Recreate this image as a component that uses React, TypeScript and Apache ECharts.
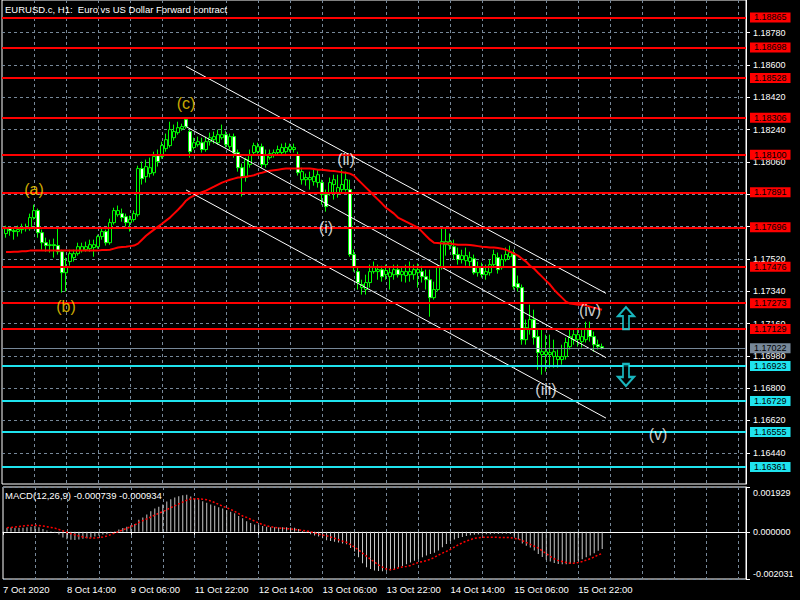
import React, { useEffect, useRef } from "react";
import * as echarts from "echarts";

// ---------- DATA ----------
const symbolTitle = "EURUSD.c, H1:  Euro vs US Dollar Forward contract";
const macdTitle = "MACD(12,26,9) -0.000739 -0.000934";

const opens = [
  1.17661, 1.17688, 1.17677, 1.17672, 1.17683, 1.17694, 1.17688, 1.17750, 1.17789, 1.17666,
  1.17610, 1.17594, 1.17599, 1.17594, 1.17560, 1.17443, 1.17505, 1.17527, 1.17549, 1.17566,
  1.17571, 1.17577, 1.17583, 1.17588, 1.17644, 1.17672, 1.17610, 1.17722, 1.17766, 1.17772,
  1.17755, 1.17722, 1.17739, 1.17766, 1.18023, 1.17978, 1.17995, 1.18000, 1.18095, 1.18090,
  1.18134, 1.18151, 1.18195, 1.18223, 1.18245, 1.18296, 1.18229, 1.18140, 1.18156, 1.18167,
  1.18129, 1.18173, 1.18184, 1.18167, 1.18195, 1.18212, 1.18145, 1.18201, 1.18112, 1.18028,
  1.17973, 1.18045, 1.18112, 1.18117, 1.18145, 1.18045, 1.18084, 1.18101, 1.18112, 1.18112,
  1.18117, 1.18129, 1.18129, 1.18101, 1.17961, 1.17961, 1.17961, 1.17950, 1.17945, 1.17945,
  1.17878, 1.17889, 1.17934, 1.17889, 1.17906, 1.17906, 1.17906, 1.17544, 1.17449, 1.17360,
  1.17349, 1.17388, 1.17449, 1.17449, 1.17460, 1.17432, 1.17421, 1.17432, 1.17460, 1.17432,
  1.17427, 1.17432, 1.17432, 1.17443, 1.17449, 1.17421, 1.17404, 1.17304, 1.17349, 1.17477,
  1.17599, 1.17594, 1.17588, 1.17544, 1.17516, 1.17510, 1.17505, 1.17521, 1.17443, 1.17477,
  1.17432, 1.17443, 1.17488, 1.17527, 1.17471, 1.17516, 1.17532, 1.17544, 1.17382, 1.17360,
  1.17070, 1.17126, 1.17182, 1.17087, 1.16987, 1.16987, 1.16987, 1.16976, 1.16959, 1.16959,
  1.16976, 1.17031, 1.17070, 1.17070, 1.17059, 1.17070, 1.17126, 1.17087, 1.17042, 1.17031,
];
const closes = [
  1.17688, 1.17677, 1.17672, 1.17683, 1.17694, 1.17688, 1.17750, 1.17789, 1.17666, 1.17610,
  1.17594, 1.17599, 1.17594, 1.17560, 1.17443, 1.17477, 1.17549, 1.17549, 1.17588, 1.17588,
  1.17588, 1.17599, 1.17599, 1.17644, 1.17672, 1.17610, 1.17722, 1.17789, 1.17789, 1.17750,
  1.17722, 1.17739, 1.17772, 1.18023, 1.17967, 1.18034, 1.18028, 1.18090, 1.18062, 1.18151,
  1.18184, 1.18240, 1.18229, 1.18251, 1.18257, 1.18257, 1.18117, 1.18167, 1.18173, 1.18129,
  1.18173, 1.18195, 1.18201, 1.18212, 1.18212, 1.18156, 1.18201, 1.18112, 1.18028, 1.17978,
  1.18073, 1.18101, 1.18151, 1.18145, 1.18045, 1.18101, 1.18106, 1.18112, 1.18129, 1.18140,
  1.18140, 1.18145, 1.18140, 1.18000, 1.18006, 1.17973, 1.17973, 1.17978, 1.17989, 1.17878,
  1.17811, 1.17945, 1.17961, 1.17917, 1.17934, 1.17961, 1.17544, 1.17477, 1.17388, 1.17377,
  1.17388, 1.17449, 1.17477, 1.17460, 1.17421, 1.17455, 1.17443, 1.17460, 1.17432, 1.17449,
  1.17449, 1.17449, 1.17460, 1.17460, 1.17421, 1.17404, 1.17304, 1.17349, 1.17477, 1.17616,
  1.17616, 1.17616, 1.17544, 1.17516, 1.17538, 1.17538, 1.17527, 1.17443, 1.17477, 1.17432,
  1.17449, 1.17488, 1.17544, 1.17460, 1.17516, 1.17544, 1.17555, 1.17365, 1.17360, 1.17070,
  1.17137, 1.17182, 1.17081, 1.16998, 1.17003, 1.17003, 1.16998, 1.17003, 1.16976, 1.16976,
  1.17054, 1.17087, 1.17098, 1.17098, 1.17087, 1.17126, 1.17087, 1.17042, 1.17031, 1.17022,
];
const highs = [
  1.17705, 1.17700, 1.17694, 1.17705, 1.17716, 1.17716, 1.17772, 1.17822, 1.17800, 1.17683,
  1.17638, 1.17627, 1.17633, 1.17694, 1.17571, 1.17527, 1.17571, 1.17571, 1.17610, 1.17610,
  1.17616, 1.17627, 1.17627, 1.17655, 1.17694, 1.17683, 1.17744, 1.17805, 1.17817, 1.17800,
  1.17772, 1.17761, 1.17789, 1.18039, 1.18062, 1.18073, 1.18084, 1.18117, 1.18129, 1.18173,
  1.18218, 1.18284, 1.18268, 1.18284, 1.18273, 1.18307, 1.18240, 1.18195, 1.18201, 1.18195,
  1.18201, 1.18223, 1.18229, 1.18240, 1.18268, 1.18234, 1.18218, 1.18218, 1.18129, 1.18051,
  1.18084, 1.18129, 1.18167, 1.18167, 1.18162, 1.18129, 1.18129, 1.18129, 1.18151, 1.18162,
  1.18167, 1.18162, 1.18162, 1.18117, 1.18028, 1.17995, 1.18006, 1.18017, 1.18017, 1.17961,
  1.17906, 1.17973, 1.17989, 1.17989, 1.18017, 1.18006, 1.17961, 1.17571, 1.17471, 1.17404,
  1.17432, 1.17488, 1.17505, 1.17488, 1.17482, 1.17488, 1.17471, 1.17488, 1.17488, 1.17471,
  1.17488, 1.17505, 1.17488, 1.17494, 1.17482, 1.17460, 1.17460, 1.17393, 1.17488, 1.17694,
  1.17694, 1.17661, 1.17627, 1.17583, 1.17571, 1.17583, 1.17560, 1.17544, 1.17505, 1.17499,
  1.17488, 1.17516, 1.17571, 1.17555, 1.17544, 1.17583, 1.17594, 1.17571, 1.17427, 1.17377,
  1.17182, 1.17265, 1.17237, 1.17126, 1.17126, 1.17098, 1.17098, 1.17070, 1.17015, 1.17042,
  1.17081, 1.17126, 1.17126, 1.17137, 1.17126, 1.17170, 1.17170, 1.17115, 1.17070, 1.17048,
];
const lows = [
  1.17638, 1.17649, 1.17627, 1.17644, 1.17661, 1.17672, 1.17677, 1.17739, 1.17638, 1.17571,
  1.17560, 1.17555, 1.17527, 1.17544, 1.17332, 1.17338, 1.17482, 1.17505, 1.17538, 1.17555,
  1.17560, 1.17560, 1.17532, 1.17577, 1.17627, 1.17594, 1.17599, 1.17711, 1.17755, 1.17727,
  1.17700, 1.17672, 1.17727, 1.17755, 1.17934, 1.17945, 1.17973, 1.17984, 1.18034, 1.18078,
  1.18117, 1.18140, 1.18179, 1.18212, 1.18234, 1.18245, 1.18084, 1.18129, 1.18145, 1.18112,
  1.18117, 1.18151, 1.18162, 1.18156, 1.18184, 1.18140, 1.18129, 1.18084, 1.18006, 1.17867,
  1.17950, 1.18028, 1.18101, 1.18106, 1.18028, 1.18028, 1.18073, 1.18084, 1.18095, 1.18101,
  1.18106, 1.18117, 1.18112, 1.17984, 1.17934, 1.17928, 1.17906, 1.17928, 1.17917, 1.17822,
  1.17783, 1.17872, 1.17850, 1.17861, 1.17889, 1.17895, 1.17532, 1.17449, 1.17349, 1.17321,
  1.17321, 1.17360, 1.17438, 1.17404, 1.17393, 1.17404, 1.17349, 1.17404, 1.17416, 1.17393,
  1.17388, 1.17393, 1.17404, 1.17360, 1.17388, 1.17349, 1.17198, 1.17293, 1.17338, 1.17460,
  1.17538, 1.17571, 1.17516, 1.17488, 1.17494, 1.17482, 1.17471, 1.17432, 1.17421, 1.17416,
  1.17404, 1.17427, 1.17471, 1.17438, 1.17460, 1.17505, 1.17516, 1.17349, 1.17338, 1.17042,
  1.17042, 1.17098, 1.17042, 1.16903, 1.16875, 1.16892, 1.16914, 1.16914, 1.16914, 1.16931,
  1.16959, 1.17015, 1.17042, 1.17031, 1.17026, 1.17054, 1.17059, 1.17003, 1.17015, 1.17015,
];
const maValues = [
  1.17558, 1.17558, 1.17560, 1.17560, 1.17563, 1.17563, 1.17566, 1.17566, 1.17566, 1.17566,
  1.17566, 1.17566, 1.17566, 1.17566, 1.17566, 1.17566, 1.17566, 1.17566, 1.17566, 1.17566,
  1.17566, 1.17566, 1.17566, 1.17566, 1.17569, 1.17569, 1.17571, 1.17577, 1.17583, 1.17586,
  1.17588, 1.17591, 1.17594, 1.17605, 1.17627, 1.17649, 1.17666, 1.17683, 1.17700, 1.17716,
  1.17733, 1.17750, 1.17772, 1.17794, 1.17817, 1.17844, 1.17861, 1.17872, 1.17883, 1.17892,
  1.17900, 1.17911, 1.17922, 1.17934, 1.17945, 1.17953, 1.17961, 1.17967, 1.17973, 1.17975,
  1.17978, 1.17981, 1.17986, 1.17995, 1.18000, 1.18006, 1.18011, 1.18014, 1.18017, 1.18020,
  1.18023, 1.18023, 1.18023, 1.18023, 1.18023, 1.18023, 1.18023, 1.18020, 1.18017, 1.18017,
  1.18014, 1.18011, 1.18009, 1.18006, 1.18003, 1.18000, 1.17995, 1.17984, 1.17961, 1.17939,
  1.17917, 1.17895, 1.17872, 1.17850, 1.17828, 1.17805, 1.17789, 1.17772, 1.17750, 1.17739,
  1.17727, 1.17716, 1.17705, 1.17694, 1.17672, 1.17649, 1.17627, 1.17610, 1.17608, 1.17605,
  1.17605, 1.17605, 1.17602, 1.17599, 1.17599, 1.17599, 1.17597, 1.17594, 1.17591, 1.17588,
  1.17586, 1.17583, 1.17583, 1.17580, 1.17577, 1.17571, 1.17560, 1.17549, 1.17538, 1.17521,
  1.17505, 1.17482, 1.17466, 1.17443, 1.17421, 1.17399, 1.17377, 1.17349, 1.17326, 1.17304,
  1.17282, 1.17271, 1.17268, 1.17265, 1.17265, 1.17260, 1.17254, 1.17248, 1.17243, 1.17237,
];
const macdHist = [
  0.00018, 0.00019, 0.00018, 0.00017, 0.00018, 0.00020, 0.00022, 0.00025, 0.00020, 0.00012,
  0.00006, 0.00002, -0.00005, -0.00012, -0.00025, -0.00032, -0.00034, -0.00035, -0.00033, -0.00030,
  -0.00028, -0.00024, -0.00020, -0.00016, -0.00012, -0.00010, -0.00005, 0.00002, 0.00010, 0.00016,
  0.00022, 0.00028, 0.00034, 0.00052, 0.00062, 0.00075, 0.00088, 0.00100, 0.00108, 0.00118,
  0.00130, 0.00140, 0.00148, 0.00153, 0.00157, 0.00160, 0.00152, 0.00145, 0.00140, 0.00132,
  0.00125, 0.00118, 0.00112, 0.00106, 0.00100, 0.00094, 0.00086, 0.00080, 0.00068, 0.00058,
  0.00046, 0.00038, 0.00032, 0.00028, 0.00025, 0.00022, 0.00020, 0.00020, 0.00019, 0.00020,
  0.00020, 0.00019, 0.00018, 0.00012, 0.00004, -0.00003, -0.00010, -0.00016, -0.00020, -0.00028,
  -0.00036, -0.00040, -0.00043, -0.00046, -0.00050, -0.00053, -0.00070, -0.00085, -0.00110, -0.00135,
  -0.00152, -0.00160, -0.00166, -0.00169, -0.00170, -0.00168, -0.00165, -0.00160, -0.00154, -0.00147,
  -0.00140, -0.00132, -0.00125, -0.00118, -0.00110, -0.00102, -0.00096, -0.00090, -0.00080, -0.00066,
  -0.00052, -0.00040, -0.00033, -0.00027, -0.00022, -0.00018, -0.00015, -0.00013, -0.00012, -0.00012,
  -0.00011, -0.00010, -0.00008, -0.00009, -0.00008, -0.00008, -0.00009, -0.00020, -0.00032, -0.00050,
  -0.00060, -0.00068, -0.00080, -0.00095, -0.00108, -0.00120, -0.00128, -0.00134, -0.00138, -0.00140,
  -0.00140, -0.00137, -0.00132, -0.00125, -0.00118, -0.00110, -0.00102, -0.00092, -0.00082, -0.00074,
];
const macdSignal = [
  0.00018, 0.00019, 0.00021, 0.00023, 0.00025, 0.00027, 0.00028, 0.00028, 0.00027, 0.00025,
  0.00022, 0.00019, 0.00016, 0.00010, 0.00004, -0.00002, -0.00008, -0.00013, -0.00018, -0.00022,
  -0.00025, -0.00027, -0.00027, -0.00025, -0.00022, -0.00018, -0.00012, -0.00005, 0.00002, 0.00008,
  0.00015, 0.00022, 0.00030, 0.00040, 0.00048, 0.00056, 0.00064, 0.00072, 0.00080, 0.00087,
  0.00095, 0.00104, 0.00112, 0.00120, 0.00128, 0.00136, 0.00141, 0.00142, 0.00142, 0.00140,
  0.00138, 0.00133, 0.00126, 0.00118, 0.00110, 0.00104, 0.00096, 0.00088, 0.00078, 0.00068,
  0.00062, 0.00054, 0.00046, 0.00038, 0.00031, 0.00026, 0.00022, 0.00019, 0.00017, 0.00015,
  0.00014, 0.00012, 0.00010, 0.00008, 0.00006, 0.00004, 0.00000, -0.00005, -0.00010, -0.00014,
  -0.00017, -0.00022, -0.00028, -0.00034, -0.00040, -0.00045, -0.00055, -0.00066, -0.00078, -0.00092,
  -0.00105, -0.00118, -0.00130, -0.00142, -0.00152, -0.00160, -0.00163, -0.00161, -0.00155, -0.00151,
  -0.00149, -0.00145, -0.00138, -0.00132, -0.00128, -0.00124, -0.00118, -0.00110, -0.00100, -0.00092,
  -0.00084, -0.00076, -0.00066, -0.00056, -0.00047, -0.00040, -0.00034, -0.00028, -0.00026, -0.00024,
  -0.00023, -0.00023, -0.00023, -0.00024, -0.00024, -0.00024, -0.00025, -0.00028, -0.00031, -0.00038,
  -0.00046, -0.00054, -0.00062, -0.00070, -0.00082, -0.00094, -0.00106, -0.00116, -0.00124, -0.00128,
  -0.00132, -0.00135, -0.00135, -0.00132, -0.00128, -0.00122, -0.00116, -0.00108, -0.00100, -0.00093,
];

const priceTicks = [
  1.1878, 1.186, 1.1842, 1.1824, 1.1806, 1.1788, 1.177, 1.1752, 1.1734, 1.1716, 1.1698, 1.168, 1.1662, 1.1644,
];
const priceMin = 1.16266;
const priceMax = 1.18962;
const macdTicks = [0.001929, 0, -0.002031];
const macdMin = -0.002031;
const macdMax = 0.001929;

const timeLabels = [
  "7 Oct 2020", "8 Oct 14:00", "9 Oct 06:00", "11 Oct 22:00", "12 Oct 14:00",
  "13 Oct 06:00", "13 Oct 22:00", "14 Oct 14:00", "15 Oct 06:00", "15 Oct 22:00",
];
const timeLabelSlots = [0, 16, 32, 48, 64, 80, 96, 112, 128, 144];
const slotCount = 187; // one leading empty slot + 150 bars + right-side shift

const redLevels = [1.18865, 1.18698, 1.18528, 1.18306, 1.181, 1.17891, 1.17696, 1.17476, 1.17273, 1.17129];
const cyanLevels = [1.16923, 1.16729, 1.16555, 1.16361];
const bidPrice = 1.17022;

// channel lines: [startSlot, startPrice, endSlot, endPrice]
const channelLines = [
  [46, 1.18592, 151, 1.17328],
  [46, 1.18257, 151, 1.1697],
  [46, 1.17904, 151, 1.16633],
];

const waveNames = ["(a)", "(b)", "(c)", "(i)", "(ii)", "(iii)", "(iv)", "(v)"];
const waveSlots = [8, 16, 46, 81, 86, 136, 147, 164];
const wavePrices = [1.17904, 1.17252, 1.18388, 1.17697, 1.18071, 1.16795, 1.17235, 1.16544];
const waveIsMinor = [false, false, false, true, true, true, true, true];

const arrowSlots = [156, 156];
const arrowPrices = [1.1719, 1.16873];
const arrowUp = [true, false];

// ---------- CHART ----------
const FONT = "'Liberation Sans', Arial, sans-serif";
const DASH = "#778899";
const CYAN = "#1fe3ee";

export default function App() {
  const ref = useRef<HTMLDivElement>(null);
  useEffect(() => {
    const chart = echarts.init(ref.current as HTMLDivElement, null, { renderer: "svg" });
    const slots = Array.from({ length: slotCount }, (_, k) => String(k));
    const labelFor = (idx: number) => {
      const j = timeLabelSlots.indexOf(idx);
      return j < 0 ? "" : timeLabels[j];
    };
    const empty = ["-", "-", "-", "-"];
    const candles = [empty, ...opens.map((o, i) => [o, closes[i], lows[i], highs[i]])];

    const levelItem = (v: number, color: string, width: number, textColor: string) => ({
      yAxis: v,
      lineStyle: { color, width, type: "solid" },
      label: {
        show: true,
        position: "end",
        distance: 4,
        formatter: v.toFixed(5),
        backgroundColor: color,
        color: textColor,
        fontFamily: FONT,
        fontSize: 9,
        lineHeight: 10,
        padding: [0, 4, 0, 4],
      },
    });

    const levelData: any[] = [
      ...redLevels.map((v) => levelItem(v, "#ff0000", 2, "#000")),
      ...cyanLevels.map((v) => levelItem(v, CYAN, 2, "#000")),
      levelItem(bidPrice, "#778899", 1, "#000"),
    ];
    const channelData: any[] = channelLines.map((c) => [
      { coord: [c[0], c[1]], lineStyle: { color: "#ffffff", width: 1, type: "solid" }, label: { show: false } },
      { coord: [c[2], c[3]] },
    ]);

    const splitIv = (i: number) => i > 0 && i % 8 === 0;
    const textStyle = { color: "#fff", fontFamily: FONT, fontSize: 9 };

    const option: any = {
      animation: false,
      backgroundColor: "#000",
      title: [
        { text: symbolTitle, left: 5, top: 4, padding: 0, textStyle: { ...textStyle, fontSize: 9.5, fontWeight: "normal" } },
        { text: macdTitle, left: 5, top: 490, padding: 0, textStyle: { ...textStyle, fontSize: 9.5, fontWeight: "normal" } },
      ],
      grid: [
        { left: 2, right: 54, top: 0, height: 484, show: true, borderColor: "#fff", borderWidth: 1 },
        { left: 2, right: 54, top: 487, height: 92, show: true, borderColor: "#fff", borderWidth: 1 },
      ],
      xAxis: [
        {
          type: "category",
          gridIndex: 0,
          data: slots,
          boundaryGap: false,
          axisLine: { show: false },
          axisTick: { show: false },
          axisLabel: { show: false },
          splitLine: { show: true, interval: splitIv, lineStyle: { color: DASH, type: [3, 3], width: 1 } },
        },
        {
          type: "category",
          gridIndex: 1,
          data: slots,
          boundaryGap: false,
          axisLine: { show: true, lineStyle: { color: "#fff" } },
          axisTick: { show: true, interval: (i: number) => timeLabelSlots.includes(i), length: 3, lineStyle: { color: "#fff" } },
          axisLabel: {
            show: true,
            interval: (i: number) => timeLabelSlots.includes(i),
            formatter: (_v: string, i: number) => labelFor(i),
            align: "left",
            margin: 5,
            ...textStyle,
            fontSize: 9.5,
          },
          splitLine: { show: true, interval: splitIv, lineStyle: { color: DASH, type: [3, 3], width: 1 } },
        },
      ],
      yAxis: [
        {
          type: "value",
          gridIndex: 0,
          position: "right",
          min: priceMin,
          max: priceMax,
          axisLine: { show: true, lineStyle: { color: "#fff" } },
          axisTick: { show: true, length: 4, customValues: priceTicks, lineStyle: { color: "#fff" } },
          axisLabel: {
            show: true,
            customValues: priceTicks,
            formatter: (v: number) => v.toFixed(5),
            margin: 7,
            ...textStyle,
          },
          splitLine: { show: true, lineStyle: { color: DASH, type: [3, 3], width: 1 } },
        },
        {
          type: "value",
          gridIndex: 1,
          position: "right",
          min: macdMin,
          max: macdMax,
          axisLine: { show: true, lineStyle: { color: "#fff" } },
          axisTick: { show: true, length: 4, customValues: macdTicks, lineStyle: { color: "#fff" } },
          axisLabel: {
            show: true,
            customValues: macdTicks,
            margin: 7,
            ...textStyle,
            formatter: (v: number) => {
              const s = v.toFixed(6);
              if (v > 0.0015) return "{t|" + s + "}";
              if (v < -0.0015) return "{b|" + s + "}";
              return s;
            },
            rich: {
              t: { ...textStyle, padding: [11, 0, 0, 0] },
              b: { ...textStyle, padding: [0, 0, 11, 0] },
            },
          },
          splitLine: { show: true, lineStyle: { color: DASH, type: [3, 3], width: 1 } },
        },
      ],
      series: [
        {
          type: "candlestick",
          xAxisIndex: 0,
          yAxisIndex: 0,
          data: candles,
          barWidth: 3,
          clip: false,
          itemStyle: {
            color: "#000000",
            color0: "#ffffff",
            borderColor: "#00ff00",
            borderColor0: "#00ff00",
            borderWidth: 1,
          },
          markLine: {
            silent: true,
            animation: false,
            precision: 5,
            symbol: ["none", "none"],
            data: channelData,
          },
        },
        {
          type: "line",
          xAxisIndex: 0,
          yAxisIndex: 0,
          data: ["-", ...maValues],
          symbol: "none",
          lineStyle: { color: "#ff0000", width: 2 },
          z: 3,
          markLine: {
            silent: true,
            animation: false,
            precision: 5,
            symbol: ["none", "none"],
            data: levelData,
          },
        },
        {
          type: "scatter",
          xAxisIndex: 0,
          yAxisIndex: 0,
          symbolSize: 1,
          itemStyle: { color: "transparent" },
          z: 5,
          data: waveNames.map((n, k) => ({
            value: [waveSlots[k], wavePrices[k]],
            label: {
              show: true,
              position: "inside",
              formatter: n,
              color: waveIsMinor[k] ? "#ffffff" : "#ffd700",
              fontFamily: FONT,
              fontSize: 16,
            },
          })),
        },
        {
          type: "scatter",
          xAxisIndex: 0,
          yAxisIndex: 0,
          symbol: "path://M8,0L16,9L11,9L11,22L5,22L5,9L0,9Z",
          symbolSize: [16, 22],
          z: 5,
          itemStyle: { color: "#000", borderColor: CYAN, borderWidth: 2 },
          data: arrowSlots.map((s, k) => ({
            value: [s, arrowPrices[k]],
            symbolRotate: arrowUp[k] ? 0 : 180,
          })),
        },
        {
          type: "bar",
          xAxisIndex: 1,
          yAxisIndex: 1,
          data: ["-", ...macdHist],
          barWidth: 1,
          itemStyle: { color: "#c8c8c8" },
        },
        {
          type: "line",
          xAxisIndex: 1,
          yAxisIndex: 1,
          data: ["-", ...macdSignal],
          symbol: "none",
          lineStyle: { color: "#ff0000", width: 1.5, type: [2, 2] },
        },
      ],
    };
    chart.setOption(option);
    return () => chart.dispose();
  }, []);
  return (
    <div
      ref={ref}
      style={{ position: "fixed", left: 0, top: 0, width: 800, height: 600, background: "#000" }}
    />
  );
}
